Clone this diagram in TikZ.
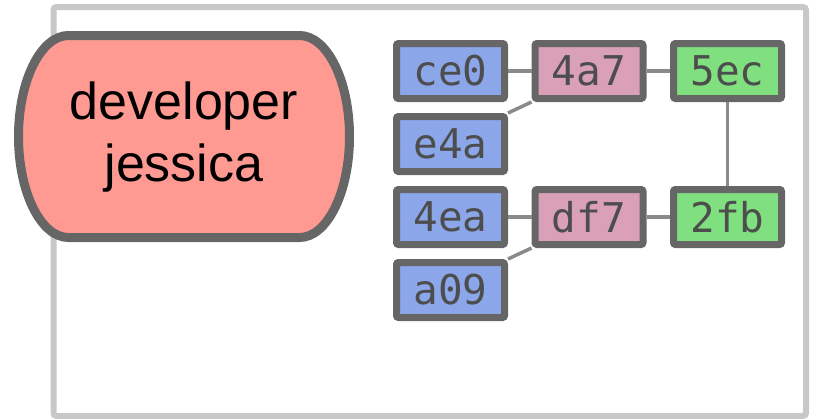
\documentclass[tikz,border=0pt]{standalone}
\usepackage{fontspec}
\setmainfont{Liberation Sans}
\newfontfamily\hashfont{DejaVu Sans Mono}
\usepackage{xcolor}
\usetikzlibrary{positioning}

\definecolor{framegray}{HTML}{C8C8C8}
\definecolor{edgegray}{HTML}{666666}
\definecolor{linkgray}{HTML}{8A8A8A}
\definecolor{hashtext}{HTML}{4D4D4D}
\definecolor{devred}{HTML}{FF9A93}
\definecolor{blobblue}{HTML}{8CA6EA}
\definecolor{treepink}{HTML}{D9A0B8}
\definecolor{commitgreen}{HTML}{80E080}

\tikzset{
  hash/.style={draw=edgegray, line width=7pt, rounded corners=2pt,
    minimum width=108pt, minimum height=55pt, inner sep=0pt,
    text=hashtext, font=\hashfont\fontsize{41}{43}\selectfont},
  blob/.style={hash, fill=blobblue},
  tree/.style={hash, fill=treepink},
  commit/.style={hash, fill=commitgreen},
  link/.style={draw=linkgray, line width=3.5pt},
}

\begin{document}
\begin{tikzpicture}[x=1pt, y=-1pt]
    \useasboundingbox (0,0) rectangle (818,418);

    % Repository frame
    \draw[framegray, line width=6pt, rounded corners=3pt] (53.5,7) rectangle (806,416);

    % Developer badge
    \draw[edgegray, line width=9pt, fill=devred]
        (68.5,35.5) -- (299.5,35.5)
        arc[start angle=90, end angle=-90, x radius=50pt, y radius=101pt]
        -- (68.5,237.5)
        arc[start angle=270, end angle=90, x radius=50pt, y radius=101pt]
        -- cycle;
    \node[align=center, font=\fontsize{52}{62}\selectfont] (dev) at (184,137) {developer\\jessica};

    % Objects: blobs, trees, commits
    \node[blob] (ce0) at (450.5,71) {ce0};
    \node[blob, below=11pt of ce0] (e4a) {e4a};
    \node[blob, below=11pt of e4a] (4ea) {4ea};
    \node[blob, below=11pt of 4ea] (a09) {a09};
    \node[tree, right=23.5pt of ce0] (4a7) {4a7};
    \node[tree, right=23.5pt of 4ea] (df7) {df7};
    \node[commit, right=23.5pt of 4a7] (5ec) {5ec};
    \node[commit, right=23.5pt of df7] (2fb) {2fb};

    % Links
    \draw[link] (ce0) -- (4a7);
    \draw[link] (e4a.north east) -- (4a7.south west);
    \draw[link] (4a7) -- (5ec);
    \draw[link] (5ec) -- (2fb);
    \draw[link] (4ea) -- (df7);
    \draw[link] (a09.north east) -- (df7.south west);
    \draw[link] (df7) -- (2fb);
\end{tikzpicture}
\end{document}
